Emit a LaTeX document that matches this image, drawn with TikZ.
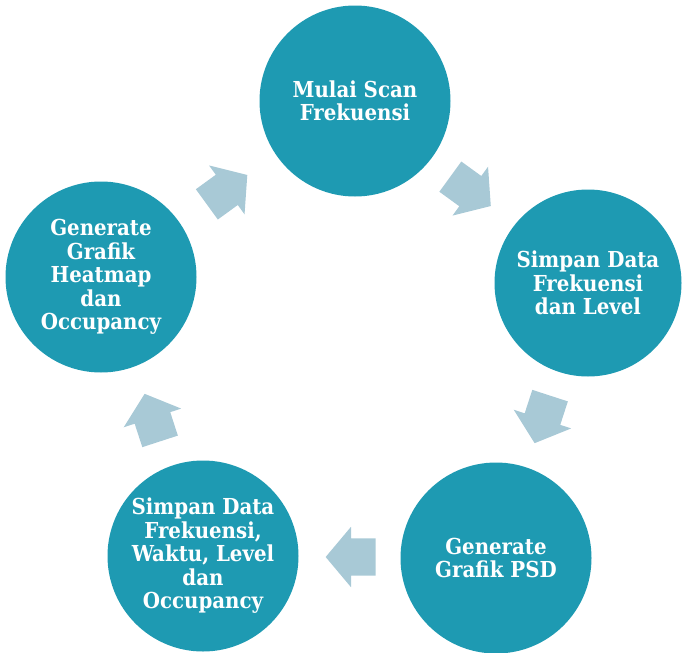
\documentclass[tikz,border=0pt]{standalone}
\usepackage{fontspec}
\setmainfont{DejaVu Serif Condensed}
\usetikzlibrary{shapes.arrows, calc}
\definecolor{stepcolor}{RGB}{30,154,178}
\definecolor{arrowcolor}{RGB}{168,201,214}

\begin{document}
\begin{tikzpicture}[
    x=1pt, y=-1pt,
    every node/.style={font=\fontsize{22}{23.5}\selectfont\bfseries},
    stepcircle/.style={circle, fill=stepcolor, text=white, align=center,
                       minimum size=191pt, inner sep=0pt},
    cyclearrow/.style={single arrow, fill=arrowcolor, draw=none,
                       minimum height=50pt, inner xsep=0pt, inner ysep=18.5pt,
                       single arrow head extend=11.5pt,
                       single arrow tip angle=100, rotate=#1, xshift=-9pt},
]
\useasboundingbox (0,0) rectangle (688,653);

%% ── Steps of the cycle ───────────────────────────────────────────────────────
\node[stepcircle] (scan) at (355,101)
  {Mulai Scan\\Frekuensi};

\node[stepcircle, minimum size=187pt] (simpan) at (588,283)
  {Simpan Data\\Frekuensi\\dan Level};

\node[stepcircle] (psd) at (496,558)
  {Generate\\Grafik PSD};

\node[stepcircle] (simpanall) at (203,556)
  {Simpan Data\\Frekuensi,\\Waktu, Level\\dan\\Occupancy};

\node[stepcircle] (heatmap) at (101,277)
  {Generate\\Grafik\\Heatmap\\dan\\Occupancy};

%% ── Cycle arrows ─────────────────────────────────────────────────────────────
\node[cyclearrow=36]   (a1) at ($(heatmap)!0.5!(scan)$) {};
\node[cyclearrow=-36]  (a2) at ($(scan)!0.5!(simpan)$) {};
\node[cyclearrow=-108] (a3) at ($(simpan)!0.5!(psd)$) {};
\node[cyclearrow=180]  (a4) at ($(psd)!0.5!(simpanall)$) {};
\node[cyclearrow=108]  (a5) at ($(simpanall)!0.5!(heatmap)$) {};

\end{tikzpicture}
\end{document}
